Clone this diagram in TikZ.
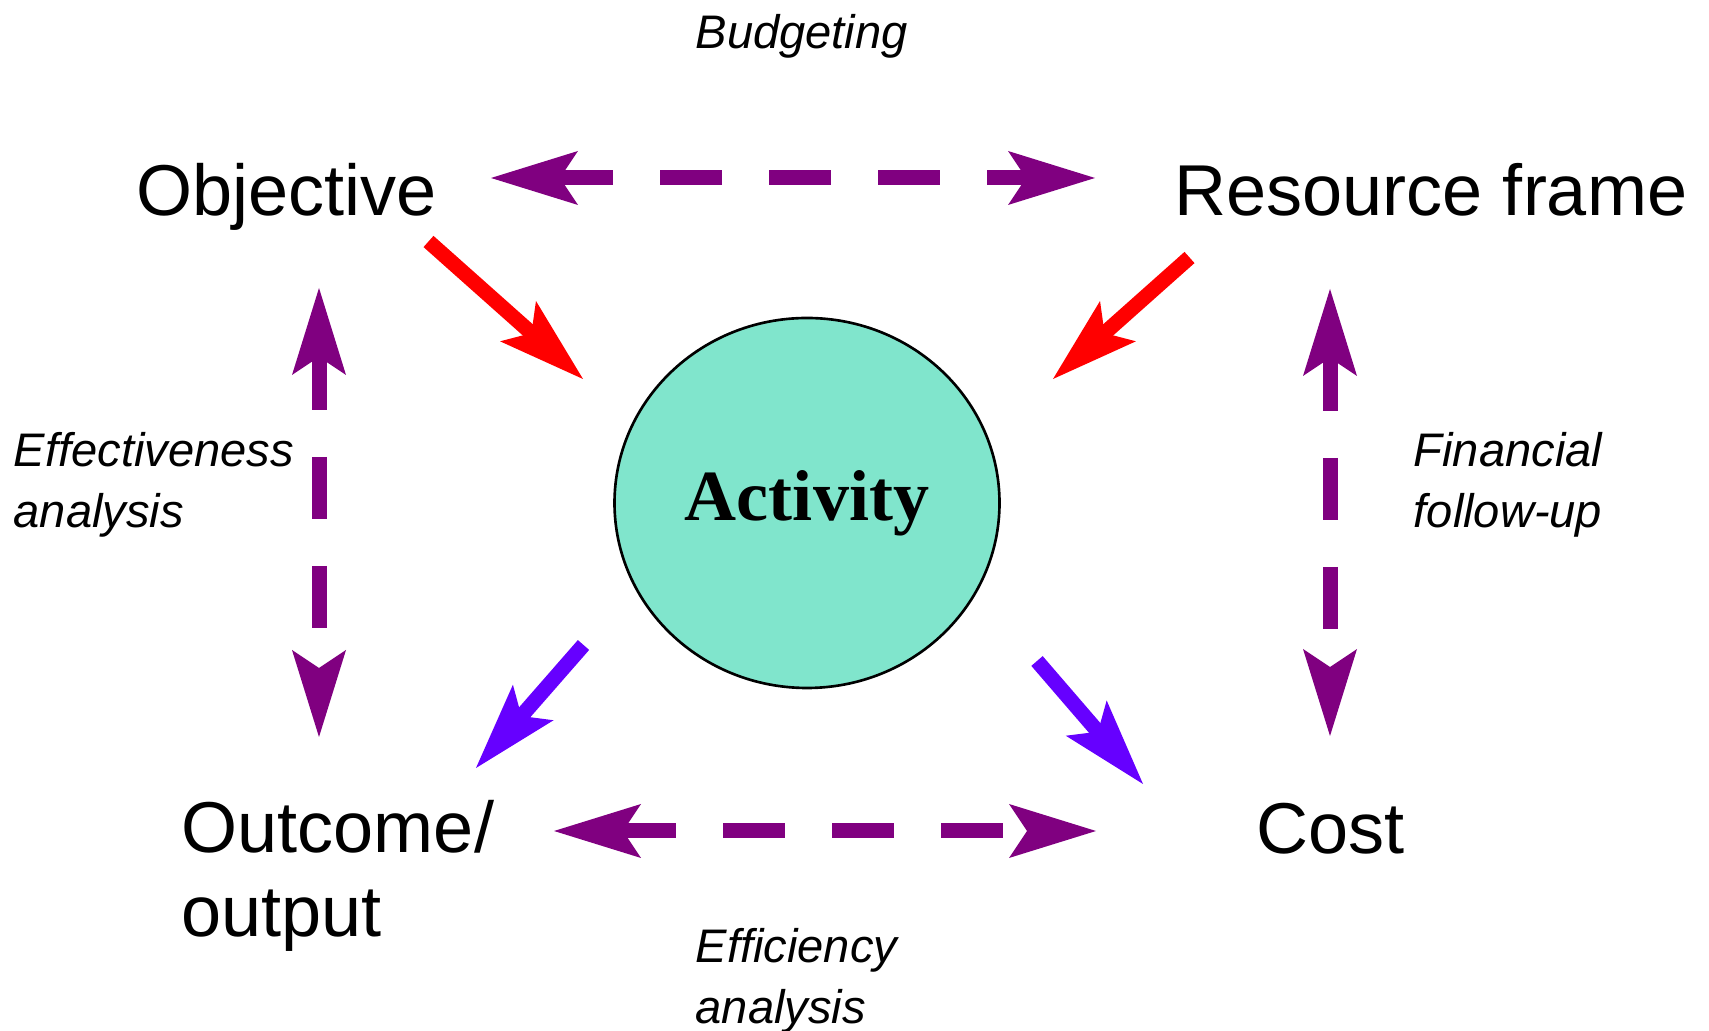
\documentclass[tikz,border=0pt]{standalone}
\usepackage{fontspec}
\setsansfont{Liberation Sans}
\newfontfamily\actfont{Liberation Serif}
\usepackage{tikz}
\usepackage{xcolor}
\usetikzlibrary{arrows.meta,shapes.geometric}

\definecolor{vpurple}{RGB}{128,0,128}
\definecolor{vred}{RGB}{255,0,0}
\definecolor{vblue}{RGB}{102,0,255}
\definecolor{actfill}{RGB}{128,229,204}

\begin{document}
\begin{tikzpicture}[
        bigtext/.style={inner sep=0pt, anchor=base west, font=\sffamily\fontsize{20.5}{24}\selectfont},
        smalltext/.style={inner sep=0pt, anchor=base west, align=left, font=\sffamily\itshape\fontsize{13.4}{17.4}\selectfont},
        actnode/.style={ellipse, draw=black, line width=0.75pt, fill=actfill, minimum width=3.85cm, minimum height=3.70cm, inner sep=0pt, font=\actfont\bfseries\fontsize{20.5}{24}\selectfont},
        bigtip/.tip={Stealth[length=8.7mm, width=5.4mm, inset=1.8mm, line width=0pt]}
        ]
            \useasboundingbox (0,0) rectangle (17.09,10.31);

            \node[bigtext] (obj) at (1.36,8.15) {Objective};
            \node[bigtext] (res) at (11.74,8.15) {Resource frame};
            \node[bigtext, align=left] (out) at (1.81,0.94) {Outcome/\\output};
            \node[bigtext] (cost) at (12.56,1.77) {Cost};
            \node[actnode] (act) at (8.07,5.28) {Activity};

            \node[smalltext] (budg) at (6.95,9.82) {Budgeting};
            \node[smalltext] (effect) at (0.13,5.03) {Effectiveness\\analysis};
            \node[smalltext] (finance) at (14.13,5.03) {Financial\\follow-up};
            \node[smalltext] (effic) at (6.95,0.07) {Efficiency\\analysis};

            % arrow ends
            \coordinate (objR) at (4.91,8.53);
            \coordinate (resL) at (10.95,8.53);
            \coordinate (outR) at (5.54,2.00);
            \coordinate (costL) at (10.96,2.00);
            \coordinate (objD) at (3.19,7.43);
            \coordinate (outU) at (3.19,2.94);
            \coordinate (resD) at (13.30,7.42);
            \coordinate (costU) at (13.30,2.95);
            \coordinate (objT) at (4.285,7.895);
            \coordinate (actNW) at (5.83,6.52);
            \coordinate (resT) at (11.895,7.735);
            \coordinate (actNE) at (10.53,6.52);
            \coordinate (actSW) at (5.835,3.86);
            \coordinate (outT) at (4.76,2.63);
            \coordinate (actSE) at (10.37,3.70);
            \coordinate (costT) at (11.43,2.47);

            \tikzset{dasharrow/.style={bigtip-bigtip, draw=vpurple, line width=1.5mm, dash pattern=on 6.2mm off 4.7mm, dash phase=0.9mm}}
            \tikzset{fullarrow/.style={-bigtip, line width=1.5mm}}

            \draw[dasharrow] (objR) -- (resL);
            \draw[dasharrow] (outR) -- (costL);
            \draw[dasharrow] (objD) -- (outU);
            \draw[dasharrow] (resD) -- (costU);

            \draw[fullarrow, vred] (objT) -- (actNW);
            \draw[fullarrow, vred] (resT) -- (actNE);
            \draw[fullarrow, vblue] (actSW) -- (outT);
            \draw[fullarrow, vblue] (actSE) -- (costT);

        \end{tikzpicture}
\end{document}
